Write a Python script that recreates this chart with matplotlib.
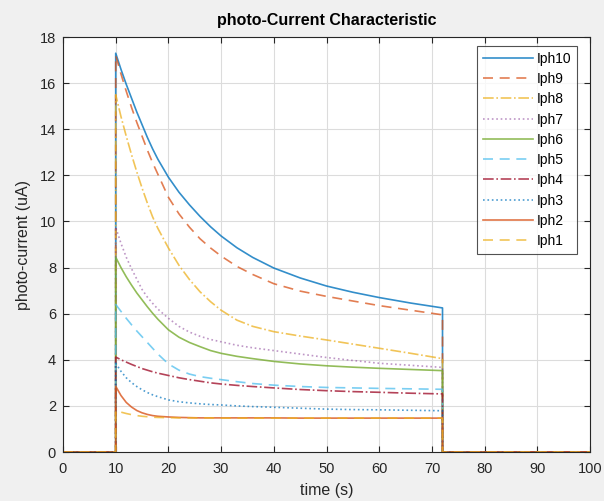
import matplotlib
matplotlib.use("Agg")
import matplotlib.pyplot as plt

# sample times (s) of the decaying part, between the rise at 10 s and the fall at 72 s
t_on = 10
t_off = 72
t_end = 100
t_samples = [10, 11, 12, 13, 14, 15, 16, 17, 18, 20, 22, 24, 26, 28, 30, 33, 36, 40, 45, 50, 55, 60, 66, 72]

labels = ["Iph10", "Iph9", "Iph8", "Iph7", "Iph6", "Iph5", "Iph4", "Iph3", "Iph2", "Iph1"]

Iph10 = [17.3, 16.6, 15.95, 15.35, 14.75, 14.2, 13.65, 13.15, 12.7, 11.92, 11.27, 10.72, 10.22, 9.77, 9.37, 8.86, 8.44, 7.98, 7.55, 7.2, 6.93, 6.7, 6.46, 6.25]
Iph9 = [17.2, 16.4, 15.65, 14.95, 14.3, 13.7, 13.1, 12.55, 12.05, 11.05, 10.33, 9.75, 9.25, 8.85, 8.5, 8.05, 7.7, 7.3, 6.98, 6.75, 6.55, 6.35, 6.15, 5.95]
Iph8 = [15.5, 14.55, 13.7, 12.9, 12.15, 11.45, 10.8, 10.2, 9.7, 8.85, 8.1, 7.48, 6.95, 6.52, 6.15, 5.72, 5.45, 5.22, 5.03, 4.86, 4.68, 4.5, 4.28, 4.05]
Iph7 = [9.75, 9.05, 8.45, 7.95, 7.5, 7.05, 6.72, 6.45, 6.2, 5.8, 5.45, 5.2, 5.02, 4.88, 4.78, 4.63, 4.52, 4.4, 4.25, 4.1, 3.97, 3.85, 3.76, 3.67]
Iph6 = [8.45, 8.0, 7.6, 7.24, 6.9, 6.6, 6.3, 6.02, 5.76, 5.3, 4.98, 4.75, 4.57, 4.4, 4.28, 4.15, 4.05, 3.93, 3.82, 3.74, 3.68, 3.63, 3.58, 3.53]
Iph5 = [6.4, 6.1, 5.8, 5.52, 5.25, 5.0, 4.75, 4.5, 4.25, 3.82, 3.55, 3.38, 3.27, 3.2, 3.14, 3.05, 2.97, 2.9, 2.84, 2.8, 2.78, 2.76, 2.74, 2.72]
Iph4 = [4.12, 4.0, 3.9, 3.8, 3.71, 3.62, 3.55, 3.48, 3.42, 3.32, 3.22, 3.14, 3.07, 3.0, 2.95, 2.89, 2.84, 2.78, 2.71, 2.66, 2.62, 2.59, 2.55, 2.52]
Iph3 = [3.85, 3.5, 3.22, 3.01, 2.84, 2.7, 2.58, 2.48, 2.4, 2.26, 2.18, 2.13, 2.09, 2.06, 2.04, 2.0, 1.97, 1.94, 1.9, 1.86, 1.84, 1.83, 1.81, 1.79]
Iph2 = [2.85, 2.45, 2.15, 1.95, 1.8, 1.7, 1.63, 1.58, 1.55, 1.52, 1.5, 1.49, 1.48, 1.48, 1.48, 1.48, 1.48, 1.48, 1.47, 1.47, 1.47, 1.47, 1.47, 1.47]
Iph1 = [1.8, 1.73, 1.67, 1.62, 1.58, 1.55, 1.53, 1.51, 1.5, 1.49, 1.48, 1.48, 1.48, 1.48, 1.47, 1.47, 1.47, 1.47, 1.47, 1.47, 1.47, 1.47, 1.47, 1.47]

series = [Iph10, Iph9, Iph8, Iph7, Iph6, Iph5, Iph4, Iph3, Iph2, Iph1]

colors = ["#0072BD", "#D95319", "#EDB120", "#7E2F8E", "#77AC30",
          "#4DBEEE", "#A2142F", "#0072BD", "#D95319", "#EDB120"]
styles = ["-", (0, (6, 4)), "-.", ":", "-", (0, (6, 4)), "-.", ":", "-", (0, (6, 4))]
alphas = [0.8, 0.75, 0.75, 0.5, 0.8, 0.75, 0.8, 0.7, 0.8, 0.75]

plt.rcParams['font.family'] = ['Liberation Sans', 'DejaVu Sans']

fig = plt.figure(figsize=(6.04, 5.01), dpi=100, facecolor="#f0f0f0")
ax = fig.add_axes([0.1043, 0.0978, 0.8727, 0.8282])
ax.set_facecolor("white")

for lab, vals, c, ls, a in zip(labels, series, colors, styles, alphas):
    tt = [0, t_on] + t_samples + [t_off, t_end]
    yy = [0, 0] + vals + [0, 0]
    ax.plot(tt, yy, color=c, linestyle=ls, linewidth=1.2, alpha=a, label=lab)

ax.set_xlim(0, 100)
ax.set_ylim(0, 18)
ax.set_xticks(range(0, 101, 10))
ax.set_yticks(range(0, 19, 2))
ax.grid(True, color="#dcdcdc", linewidth=0.8)
ax.set_axisbelow(True)
ax.tick_params(direction="in", length=4, width=0.8, top=True, right=True,
               labelsize=10.5, colors="#262626")
ax.tick_params(axis="x", pad=7)
ax.tick_params(axis="y", pad=5)
for s in ax.spines.values():
    s.set_color("#262626")
    s.set_linewidth(0.8)

ax.set_xlabel("time (s)", fontsize=11.5, color="#262626", labelpad=5)
ax.set_ylabel("photo-current (uA)", fontsize=11.5, color="#262626", labelpad=6)
ax.set_title("photo-Current Characteristic", fontsize=11.5, fontweight="bold",
             color="#000000", pad=9)

leg = ax.legend(loc="upper right", bbox_to_anchor=(0.9753, 0.978), fontsize=10,
                frameon=True, fancybox=False, edgecolor="#262626",
                handlelength=3.6, handletextpad=0.3, labelspacing=0.45,
                borderpad=0.4, borderaxespad=0.0)
leg.get_frame().set_linewidth(0.8)

fig.savefig("out.png", dpi=100, facecolor=fig.get_facecolor())
